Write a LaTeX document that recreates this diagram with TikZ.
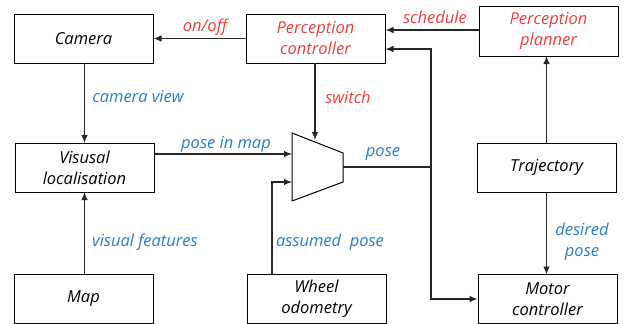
\documentclass[tikz,border=0pt]{standalone}
\usepackage{fontspec}
\setmainfont{Open Sans}
\usetikzlibrary{arrows.meta}
\definecolor{lblred}{RGB}{236,64,60}
\definecolor{lblblue}{RGB}{38,128,200}
\tikzset{
  blk/.style={draw=black, line width=1pt, minimum width=139pt, minimum height=49pt, inner sep=0pt, align=center, font=\fontsize{16.5}{21}\selectfont\itshape},
  conn/.style={draw=black!85, line width=1.1pt, -{Latex[length=8pt,width=6.5pt]}},
  plain/.style={draw=black!85, line width=1.1pt},
  redlbl/.style={text=lblred, font=\fontsize{16.5}{21}\selectfont\itshape, inner sep=0pt},
  bluelbl/.style={text=lblblue, font=\fontsize{16.5}{21}\selectfont\itshape, inner sep=0pt, align=center},
}
\begin{document}
\begin{tikzpicture}[x=1pt,y=-1pt]
\useasboundingbox (0,0) rectangle (624,324);
% boxes
\node[blk] (cam) at (83.5,38.5) {Camera};
\node[blk, text=lblred] (pc) at (315.5,38.5) {Perception\\controller};
\node[blk, minimum height=50pt, text=lblred] (pp) at (548.5,31) {Perception\\planner};
\node[blk] (vl) at (84.5,167.5) {Visusal\\localisation};
\node[blk] (traj) at (546.5,167.5) {Trajectory};
\node[blk] (map) at (83.5,299) {Map};
\node[blk] (wo) at (316.5,299) {Wheel\\odometry};
\node[blk] (mc) at (547.5,299) {Motor\\controller};
% mux
\coordinate (m1) at (292,133);
\coordinate (m2) at (343,153);
\coordinate (m3) at (343,182);
\coordinate (m4) at (292,201);
\draw[line width=1pt] (m1) -- (m2) -- (m3) -- (m4) -- cycle;
\coordinate (muxin1) at (292,154);
\coordinate (muxin2) at (292,182);
\coordinate (muxout) at (343,167);
\coordinate (muxtop) at (315,140);
\coordinate (junc) at (431,167);
% connectors
\draw[conn] (pc.west) -- (cam.east);
\draw[conn] (pp.west |- 0,30) -- (pc.east |- 0,30);
\draw[conn] (cam.south) -- (vl.south |- cam.south) -- (84.5,143);
\draw[conn] (map.north -| 84.5,0) -- (84.5,192);
\draw[conn] (315,63) -- (muxtop);
\draw[conn] (vl.east |- muxin1) -- (muxin1);
\draw[conn] (272,274.5) -- (272,182) -- (muxin2);
\draw[plain] (muxout) -- (junc);
\draw[conn] (junc) -- (431,49) -- (pc.east |- 0,49);
\draw[conn] (junc) -- (431,299) -- (mc.west |- 0,299);
\draw[conn] (traj.north) -- (546.5,56);
\draw[conn] (traj.south) -- (546.5,274.5);
% labels
\node[redlbl] at (205,27) {on/off};
\node[redlbl] at (435,17) {schedule};
\node[redlbl] at (348,97) {switch};
\node[bluelbl] at (138,97) {camera view};
\node[bluelbl] at (226,144) {pose in map};
\node[bluelbl] at (383,154) {pose};
\node[bluelbl] at (145,242) {visual features};
\node[bluelbl] at (330,242) {assumed~ pose};
\node[bluelbl] at (582,242) {desired\\pose};
\end{tikzpicture}
\end{document}
